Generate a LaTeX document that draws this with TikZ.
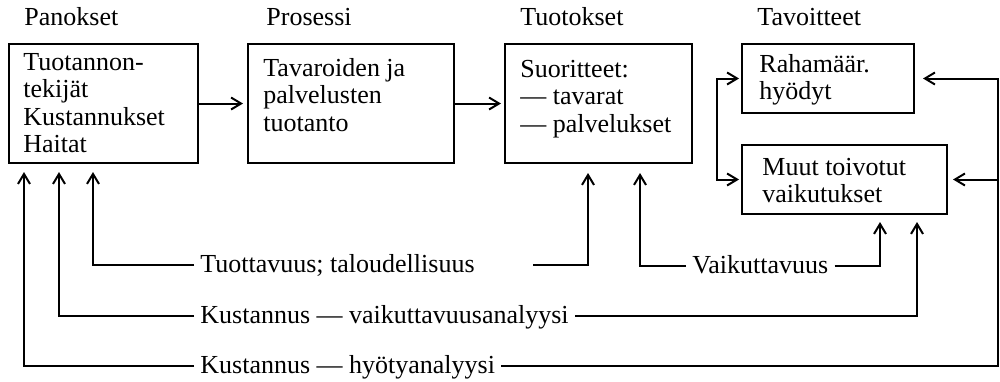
\documentclass[tikz,border=0pt]{standalone}
\usepackage{fontspec}
\setmainfont{Liberation Serif}
\usetikzlibrary{arrows.meta,calc}
\newcommand\topstrut{\rule{0pt}{10pt}}
\begin{document}
\begin{tikzpicture}[x=0.5pt,y=-0.5pt,
  every node/.style={font=\fontsize{13}{13.75}\selectfont, inner sep=0pt},
  box/.style={draw, line width=1pt, rectangle, anchor=north west},
  txt/.style={anchor=north west, align=left},
  head/.style={anchor=base west},
  lbl/.style={anchor=west, text height=9pt, text depth=2pt, inner xsep=3pt},
  ln/.style={line width=1pt},
  arr/.style={line width=1pt, -{Straight Barb[length=5pt,width=6pt]}},
  arrboth/.style={line width=1pt, {Straight Barb[length=5pt,width=6pt]}-{Straight Barb[length=5pt,width=6pt]}}
]
\path[use as bounding box] (0,0) rectangle (1000,381);

% headings
\node[head] (h1) at (24,25) {Panokset};
\node[head] (h2) at (266,25) {Prosessi};
\node[head] (h3) at (520,25) {Tuotokset};
\node[head] (h4) at (757,25) {Tavoitteet};

% boxes
\node[box, minimum width=94.5pt, minimum height=59.5pt] (b1) at (8,43) {};
\node[box, minimum width=103pt, minimum height=59.5pt] (b2) at (247,43) {};
\node[box, minimum width=93.5pt, minimum height=59.5pt] (b3) at (504,43) {};
\node[box, minimum width=86pt, minimum height=34.5pt] (b4) at (741,43) {};
\node[box, minimum width=102.5pt, minimum height=34.5pt] (b5) at (741,144) {};

% box texts
\node[txt] (t1) at (23,50) {\topstrut Tuotannon-\\tekijät\\Kustannukset\\Haitat};
\node[txt] (t2) at (263,56) {\topstrut Tavaroiden ja\\palvelusten\\tuotanto};
\node[txt] (t3) at (520,57) {\topstrut Suoritteet:\\--- tavarat\\--- palvelukset};
\node[txt] (t4) at (759,52) {\topstrut Rahamäär.\\hyödyt};
\node[txt] (t5) at (762,155) {\topstrut Muut toivotut\\vaikutukset};

% process arrows
\draw[arr, shorten >=2pt] (b1.east) -- (b2.west);
\draw[arr, shorten >=1.5pt] (b2.east) -- (b3.west);

% between goals
\coordinate (lv) at (717,0);
\draw[arrboth, shorten <=1pt, shorten >=1pt] (b4.west) -- (b4.west -| lv) -- (b5.west -| lv) -- (b5.west);

% bottom labels
\node[lbl] (l1) at (194,265) {Tuottavuus; taloudellisuus};
\node[lbl] (l2) at (194,316) {Kustannus --- vaikuttavuusanalyysi};
\node[lbl] (l3) at (194,366) {Kustannus --- hyötyanalyysi};
\node[lbl] (l4) at (686,266) {Vaikuttavuus};

% connectors to inputs
\draw[arr, shorten >=4pt] (l1.west) -| ($(b1.south west)+(85,0)$);
\draw[arr, shorten >=4pt] (l2.west) -| ($(b1.south west)+(51,0)$);
\draw[arr, shorten >=4pt] (l3.west) -| ($(b1.south west)+(16,0)$);

% connectors to outputs
\coordinate (c1) at (533,265);
\draw[arr, shorten >=4.5pt] (c1) -| ($(b3.south west)+(84,0)$);
\draw[arr, shorten >=4.5pt] (l4.west) -| ($(b3.south west)+(136,0)$);

% connectors to goals
\draw[arr, shorten >=3.5pt] (l4.east) -| ($(b5.south west)+(139,0)$);
\draw[arr, shorten >=3.5pt] (l2.east) -| ($(b5.south west)+(176,0)$);
\coordinate (rt) at (998,0);
\draw[arr, shorten >=4pt] (l3.east) -| (rt |- b4.east) -- (b4.east);
\draw[arr, shorten >=2.5pt] (rt |- b5.east) -- (b5.east);
\end{tikzpicture}
\end{document}
